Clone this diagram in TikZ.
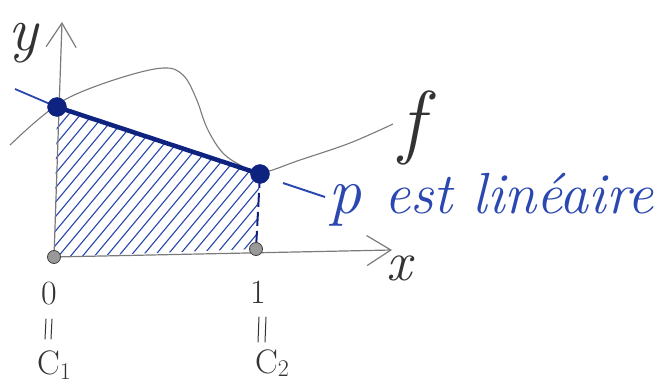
\documentclass[tikz,border=0pt]{standalone}
\usepackage{fontspec}
\usetikzlibrary{arrows.meta}
\definecolor{penblue}{HTML}{2A48B0}
\definecolor{dotblue}{HTML}{0E2280}
\definecolor{pencil}{HTML}{7A7A7A}
\definecolor{ink}{HTML}{333333}
\tikzset{
  axisline/.style={pencil, line width=1.2pt, -{Straight Barb[length=24pt,width=30pt,line width=1.2pt]}},
  bluedot/.style={circle, fill=dotblue, draw=dotblue, minimum size=19pt, inner sep=0pt},
  graydot/.style={circle, fill=gray!80, draw=gray!50!black, line width=0.8pt, minimum size=13pt, inner sep=0pt},
  pencillabel/.style={ink, inner sep=0pt},
  pencilstroke/.style={ink, line width=1pt, line cap=round},
  bluelabel/.style={penblue, inner sep=0pt},
}
\begin{document}
\begin{tikzpicture}[x=1pt,y=-1pt]
\useasboundingbox (0,0) rectangle (661,390);
% points
\coordinate (O) at (54,257);
\coordinate (X1) at (256,249);
\coordinate (A) at (57,107);
\coordinate (B) at (260,174);
\coordinate (xend) at (392,250);
\coordinate (yend) at (62,22);
\coordinate (pL) at (15,89);
\coordinate (pr1) at (283,183);
\coordinate (pr2) at (325,197);
% hatching
\begin{scope}
  \clip (O) -- (A) -- (B) -- (X1) -- cycle;
  \foreach \i in {-170,-158,...,260} \draw[penblue, line width=1.1pt] (\i,300) -- ++(250,-300);
\end{scope}
% axes
\draw[axisline] (O) -- (xend);
\draw[axisline] (O) -- (yend);
% f curve
\draw[pencil, line width=1.1pt] plot[smooth, tension=0.6] coordinates {(10,145) (40,118) (70,97) (120,78) (163,68) (183,75) (196,98) (207,128) (222,152) (240,165) (260,173) (300,160) (350,143) (393,124)};
% line p
\draw[penblue, line width=1.8pt] (pL) -- (A);
\draw[dotblue, line width=4.5pt] (A) -- (B);
\draw[dotblue, line width=2pt, dash pattern=on 14pt off 5pt] (B) -- (X1);
\draw[penblue, line width=2pt] (pr1) -- (pr2);
% dots
\node[bluedot] (dA) at (A) {};
\node[bluedot] (dB) at (B) {};
\node[graydot] (dO) at (O) {};
\node[graydot] (dX) at (X1) {};
% labels
\node[pencillabel, anchor=base] (ly) at (23,51) {\fontsize{62}{62}\selectfont\itshape y};
\node[pencillabel] (lx) at (399,268) {\fontsize{56}{56}\selectfont\itshape x};
\node[pencillabel] (lf) at (412,128) {\fontsize{82}{82}\selectfont\itshape f};
\node[bluelabel, anchor=base] (lp) at (345,214) {\fontsize{66}{66}\selectfont\itshape p};
\node[bluelabel, anchor=base west] (lest) at (384,214) {\fontsize{58}{58}\selectfont\itshape est lin\'eaire};
\node[pencillabel] (l0) at (49,294) {\fontsize{34}{34}\selectfont 0};
\node[pencillabel] (l1) at (258,292) {\fontsize{34}{34}\selectfont 1};
\node[pencillabel] (c1) at (54,365) {\fontsize{34}{34}\selectfont C\raisebox{-5pt}{\fontsize{24}{24}\selectfont 1}};
\node[pencillabel] (c2) at (272,363) {\fontsize{34}{34}\selectfont C\raisebox{-3pt}{\fontsize{24}{24}\selectfont 2}};
% vertical equals signs (pencil strokes)
\draw[pencilstroke] (46,319) -- (45,339);
\draw[pencilstroke] (52,319) -- (51,339);
\draw[pencilstroke] (259,317) -- (258,342);
\draw[pencilstroke] (266,317) -- (265,342);
\end{tikzpicture}
\end{document}
